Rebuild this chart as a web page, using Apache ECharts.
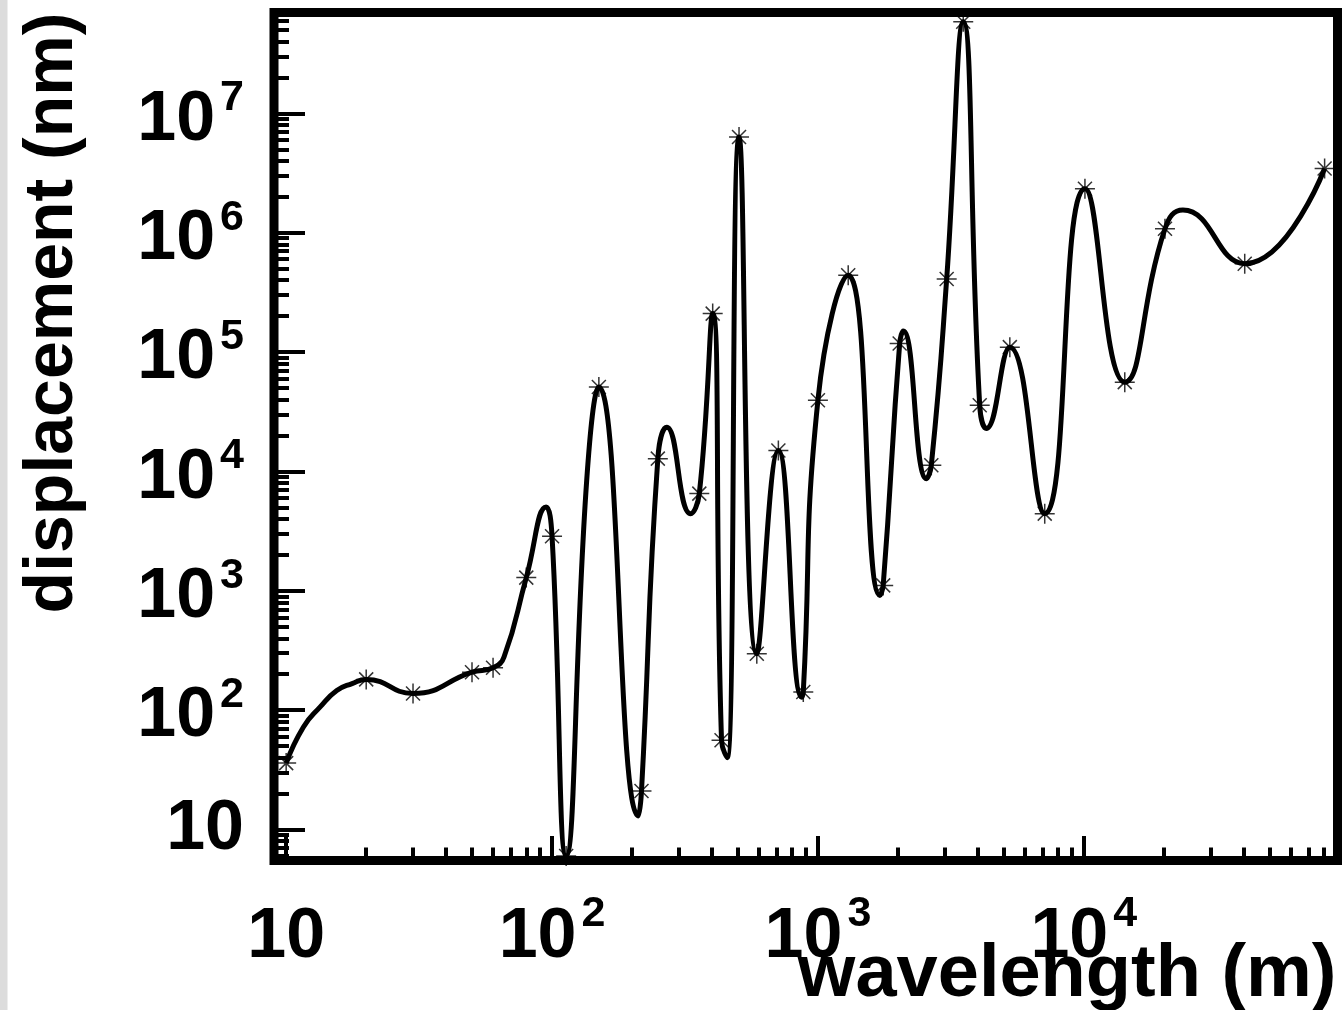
<!DOCTYPE html>
<html>
<head>
<meta charset="utf-8">
<script src="https://cdn.jsdelivr.net/npm/echarts@6/dist/echarts.min.js"></script>
<style>
  html, body { margin: 0; padding: 0; background: #ffffff; }
  #chart { width: 1342px; height: 1010px; }
</style>
</head>
<body>
<div id="chart"></div>
<script>
// Response curve: wavelength (m) and displacement (nm), including its turning points
const curveWavelength = [10, 11.6, 13.4, 15.5, 17.7, 20, 30, 50, 60, 66, 80, 95, 100, 113, 135, 150, 211, 217, 250, 270, 332, 358,
  402, 434, 456, 505, 589, 710, 869, 881, 1000, 1300, 1710, 1760, 2030, 2094, 2560, 2670, 3050, 3520, 4060, 4300,
  5270, 7130, 10100, 14260, 20200, 23600, 40300, 80500];
const curveDisplacement = [36, 72, 106, 146, 167, 181, 138, 208, 227, 280, 1290, 5040, 2860, 6, 8400, 51000, 13, 21, 12800, 23500, 4430, 6520,
  210000, 56, 40, 6.35e6, 297, 15000, 128, 142, 39500, 440000, 914, 1110, 118000, 150000, 8700, 11250, 410000, 5.85e7, 35800, 22900,
  110000, 4430, 2.34e6, 56000, 1.08e6, 1.55e6, 550000, 3.45e6];

// Computed samples, drawn as asterisks
const sampleWavelength = [10, 20, 30, 50, 60, 80, 100, 113, 150, 217, 250, 358, 402, 434, 505, 589, 710, 881, 1000,
  1300, 1760, 2030, 2670, 3050, 3520, 4060, 5270, 7130, 10100, 14260, 20200, 40300, 80500];
const sampleDisplacement = [36, 181, 138, 208, 227, 1290, 2860, 6, 51000, 21, 12800, 6520, 210000, 56, 6.35e6, 297, 15000, 142, 39500,
  440000, 1110, 118000, 11250, 410000, 5.85e7, 35800, 110000, 4430, 2.34e6, 56000, 1.08e6, 550000, 3.45e6];

// Decade ticks and their labels ("base^exponent")
const xTickValues = [10, 100, 1000, 10000];
const xTickLabels = ['10', '10^2', '10^3', '10^4'];
const yTickValues = [10, 1e2, 1e3, 1e4, 1e5, 1e6, 1e7];
const yTickLabels = ['10', '10^2', '10^3', '10^4', '10^5', '10^6', '10^7'];

const X_MIN = 9, X_MAX = 90000;
const Y_MIN = 5.5, Y_MAX = 7e7;

// Minor ticks at 2..9 times each decade, kept inside the axis range
const minorSteps = [2, 3, 4, 5, 6, 7, 8, 9];
function minorTicks(decades, lo, hi) {
  const out = [];
  decades.forEach(d => minorSteps.forEach(m => {
    const v = d * m;
    if (v > lo && v < hi) out.push(v);
  }));
  return out;
}
const xMinor = minorTicks([1, 10, 100, 1000, 10000], X_MIN, X_MAX);
const yMinor = minorTicks([1, 10, 1e2, 1e3, 1e4, 1e5, 1e6, 1e7], Y_MIN, Y_MAX);

const FONT = '"Liberation Sans", Arial, Helvetica, sans-serif';

function richLabel(values, labels) {
  return function (v) {
    let i = values.findIndex(t => Math.abs(t - v) / t < 1e-6);
    if (i < 0) return '';
    const parts = labels[i].split('^');
    return parts.length > 1 ? '{b|' + parts[0] + '}{s|' + parts[1] + '}' : '{b|' + parts[0] + '}';
  };
}

const baseTok = { fontFamily: FONT, fontWeight: 'bold', color: '#000' };
const richX = {
  b: Object.assign({ fontSize: 70, height: 70, lineHeight: 70, verticalAlign: 'bottom' }, baseTok),
  s: Object.assign({ fontSize: 43, height: 22, lineHeight: 70, verticalAlign: 'top', padding: [0, 0, 0, 5] }, baseTok)
};
const richY = {
  b: Object.assign({ fontSize: 70, height: 70, lineHeight: 70, verticalAlign: 'bottom' }, baseTok),
  s: Object.assign({ fontSize: 43, height: 54, lineHeight: 84, verticalAlign: 'top', padding: [0, 0, 0, 5] }, baseTok)
};

const asterisk = 'path://M0,-10L0,10M-10,0L10,0M-7,-7L7,7M-7,7L7,-7';

const chart = echarts.init(document.getElementById('chart'), null, { renderer: 'canvas' });

const commonX = {
  type: 'log', logBase: 10, min: X_MIN, max: X_MAX, position: 'bottom',
  axisLine: { show: false, onZero: false }, splitLine: { show: false }, minorTick: { show: false }
};
const commonY = {
  type: 'log', logBase: 10, min: Y_MIN, max: Y_MAX, position: 'left',
  axisLine: { show: false, onZero: false }, splitLine: { show: false }, minorTick: { show: false }
};

chart.setOption({
  animation: false,
  backgroundColor: '#ffffff',
  graphic: [{
    type: 'rect', left: 0, top: 0, z: -10,
    shape: { width: 7.5, height: 1010 },
    style: { fill: '#dcdcdc' }
  }],
  grid: {
    left: 274, right: 4.5, top: 12.5, bottom: 149.5,
    containLabel: false, outerBoundsMode: 'none',
    show: true, backgroundColor: '#ffffff', borderColor: '#000000', borderWidth: 9
  },
  xAxis: [
    Object.assign({}, commonX, {
      name: 'wavelength (m)', nameLocation: 'end', nameGap: -1, nameMoveOverlap: false,
      nameTextStyle: {
        fontFamily: FONT, fontWeight: 'bold', fontSize: 74, lineHeight: 74, color: '#000',
        align: 'right', verticalAlign: 'top', padding: [78, 0, 0, 0]
      },
      axisTick: { show: true, inside: true, length: 24.5, lineStyle: { color: '#000', width: 4 }, customValues: xTickValues },
      axisLabel: {
        show: true, margin: 42.4, customValues: xTickValues,
        formatter: richLabel(xTickValues, xTickLabels), rich: richX,
        showMinLabel: true, showMaxLabel: true
      }
    }),
    Object.assign({}, commonX, {
      axisTick: { show: true, inside: true, length: 13, lineStyle: { color: '#000', width: 4 }, customValues: xMinor },
      axisLabel: { show: false }
    })
  ],
  yAxis: [
    Object.assign({}, commonY, {
      name: 'displacement (nm)', nameLocation: 'middle', nameRotate: 90, nameGap: 187, nameMoveOverlap: false,
      nameTextStyle: {
        fontFamily: FONT, fontWeight: 'bold', fontSize: 68, lineHeight: 68, color: '#000',
        padding: [0, 0, 0, 247]
      },
      axisTick: { show: true, inside: true, length: 31, lineStyle: { color: '#000', width: 4 }, customValues: yTickValues },
      axisLabel: {
        show: true, margin: 30, customValues: yTickValues,
        formatter: richLabel(yTickValues, yTickLabels), rich: richY,
        showMinLabel: true, showMaxLabel: true
      }
    }),
    Object.assign({}, commonY, {
      axisTick: { show: true, inside: true, length: 15, lineStyle: { color: '#000', width: 4 }, customValues: yMinor },
      axisLabel: { show: false }
    })
  ],
  series: [
    {
      type: 'line', xAxisIndex: 0, yAxisIndex: 0,
      data: curveWavelength.map((x, i) => [x, curveDisplacement[i]]),
      smooth: true, showSymbol: false, symbol: 'none', clip: true,
      lineStyle: { color: '#000', width: 5 }
    },
    {
      type: 'scatter', xAxisIndex: 0, yAxisIndex: 0,
      data: sampleWavelength.map((x, i) => [x, sampleDisplacement[i]]),
      symbol: asterisk, symbolSize: 20, clip: true,
      itemStyle: { color: 'none', borderColor: '#000', borderWidth: 1.5 }
    }
  ]
});
</script>
</body>
</html>
